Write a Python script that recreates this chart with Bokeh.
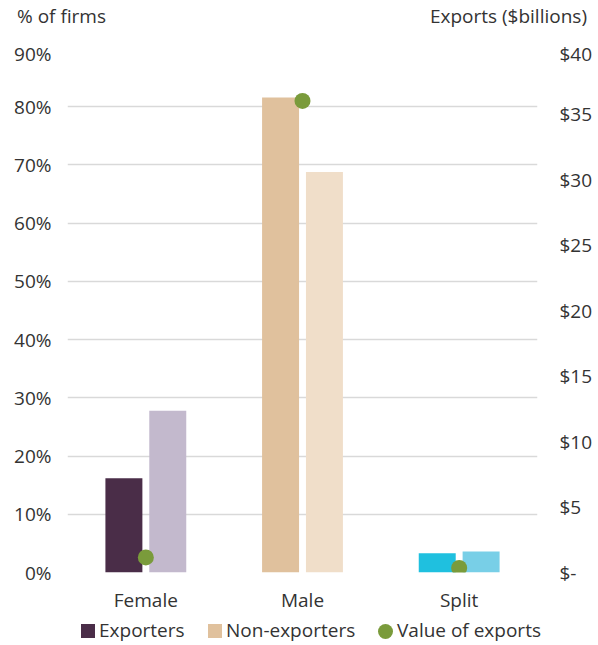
from bokeh.plotting import figure
from bokeh.layouts import column
from bokeh.models import (Range1d, LinearAxis, FactorRange, FixedTicker, ColumnDataSource, Div)
from bokeh.transform import dodge
from bokeh.embed import file_html
from bokeh.resources import INLINE

# ---- data ----
categories = ["Female", "Male", "Split"]
exporters = [16.2, 81.6, 3.3]            # % of firms
non_exporters = [27.8, 68.8, 3.6]        # % of firms
export_value = [1.15, 36.0, 0.35]        # $ billions
exporter_colors = ["#4a2d48", "#e0c19d", "#1fc0df"]
non_exporter_colors = ["#c3b9cd", "#f0dec9", "#78cfe7"]
dot_color = "#7a9b3b"
left_ticks = [0, 10, 20, 30, 40, 50, 60, 70, 80, 90]
left_labels = ["0%", "10%", "20%", "30%", "40%", "50%", "60%", "70%", "80%", "90%"]
right_ticks = [0, 5, 10, 15, 20, 25, 30, 35, 40]
right_labels = ["$-", "$5", "$10", "$15", "$20", "$25", "$30", "$35", "$40"]
left_title = "% of firms"
right_title = "Exports ($billions)"
legend_labels = ["Exporters", "Non-exporters", "Value of exports"]
legend_colors = [exporter_colors[0], exporter_colors[1], dot_color]
legend_round = [False, False, True]

FONT = "Open Sans"
FS = "19px"
TXT = "#333333"
W = 594
base_style = f"position:relative;width:{W}px;font-family:'{FONT}';font-size:{FS};color:{TXT};line-height:26px;white-space:nowrap;"

# ---- header with the two axis titles ----
head = Div(width=W, height=40, margin=0, text=(
    f'<div style="{base_style}height:40px;">'
    f'<span style="position:absolute;left:17px;top:3px;">{left_title}</span>'
    f'<span style="position:absolute;right:7px;top:3px;">{right_title}</span></div>'))

# ---- main chart ----
src = ColumnDataSource(dict(cat=categories, exp=exporters, non=non_exporters,
                            val=export_value, ec=exporter_colors, nc=non_exporter_colors))

p = figure(x_range=FactorRange(*categories, range_padding=0), y_range=Range1d(0, 90),
           frame_width=470, frame_height=524, min_border_left=67, min_border_right=W - 537,
           min_border_top=8, min_border_bottom=40, margin=0,
           output_backend="svg", toolbar_location=None)
p.extra_y_ranges = {"exports": Range1d(0, 40)}
p.outline_line_color = None

p.vbar(x=dodge("cat", -0.14, range=p.x_range), top="exp", width=0.236, source=src,
       fill_color="ec", line_color=None)
p.vbar(x=dodge("cat", 0.14, range=p.x_range), top="non", width=0.236, source=src,
       fill_color="nc", line_color=None)
p.scatter(x="cat", y="val", source=src, y_range_name="exports", size=16,
          marker="circle", fill_color=dot_color, line_color=None)

p.yaxis.ticker = FixedTicker(ticks=left_ticks)
p.yaxis.major_label_overrides = {t: l for t, l in zip(left_ticks, left_labels)}
p.yaxis.major_label_standoff = 16

ry = LinearAxis(y_range_name="exports", ticker=FixedTicker(ticks=right_ticks))
ry.major_label_overrides = {t: l for t, l in zip(right_ticks, right_labels)}
ry.major_label_standoff = 22
p.add_layout(ry, "right")

p.xaxis.major_label_standoff = 14

for ax in p.axis:
    ax.axis_line_color = None
    ax.major_tick_line_color = None
    ax.minor_tick_line_color = None
    ax.major_tick_out = 0
    ax.major_tick_in = 0
    ax.minor_tick_out = 0
    ax.major_label_text_font = FONT
    ax.major_label_text_font_size = FS
    ax.major_label_text_color = TXT

p.xgrid.grid_line_color = None
p.ygrid.grid_line_color = "#d9d9d9"
p.ygrid.grid_line_width = 1.5
p.ygrid.ticker = FixedTicker(ticks=left_ticks)

# ---- legend row ----
legend_x = [81, 208, 378]   # layout positions of the legend swatches
parts = []
for lx, lab, col, rnd in zip(legend_x, legend_labels, legend_colors, legend_round):
    sz = 15 if rnd else 14
    radius = "50%" if rnd else "0"
    parts.append(f'<span style="position:absolute;left:{lx}px;top:{16 - sz // 2}px;width:{sz}px;'
                 f'height:{sz}px;background:{col};border-radius:{radius};"></span>')
    parts.append(f'<span style="position:absolute;left:{lx + sz + 4}px;top:2px;">{lab}</span>')
foot = Div(width=W, height=28, margin=0,
           text=f'<div style="{base_style}height:28px;">' + "".join(parts) + '</div>')

layout = column(head, p, foot, spacing=0)
open("out.html", "w").write(file_html(layout, INLINE))
